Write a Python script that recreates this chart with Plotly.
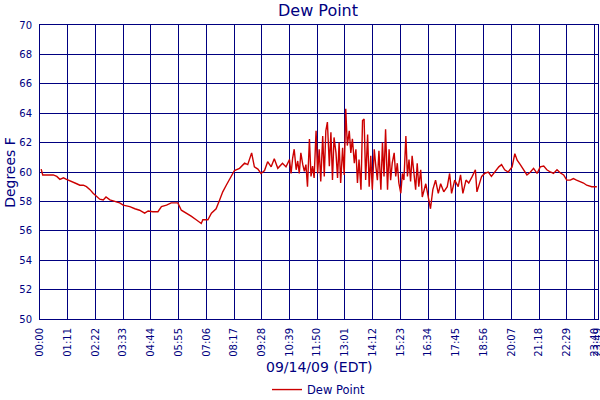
import plotly.graph_objects as go

# minutes after midnight, 09/14/09 (EDT)
minutes = [
    3, 7, 34, 43, 51, 60, 68, 77, 85, 94, 102, 111, 119, 128, 136, 145, 153, 162,
    169, 179, 192, 204, 213, 221, 230, 243, 255, 268, 277, 289, 302, 311, 324, 336,
    353, 362, 375, 387, 400, 413, 417, 430, 439, 451, 460, 468,
    477, 490, 498, 511, 524, 532, 542, 549, 558, 566, 575, 583, 592, 600, 609, 621,
    630,
    639, 643, 647, 651, 656, 660, 664, 668, 673, 677, 681, 685, 690, 694, 698, 702,
    707, 711, 715, 719, 724, 728, 732, 736, 741, 745, 749, 753, 758, 762, 766, 770,
    775, 779, 783, 787, 792, 796, 800, 805, 809,
    813, 817, 822, 826, 830, 834, 839, 843, 847, 851, 856, 860, 864, 868, 873, 877,
    881, 885, 890, 894, 898, 902, 907, 911, 915, 919, 924, 928, 932, 937, 941, 945,
    949, 953, 958, 962, 966, 970, 975, 979,
    988, 994, 1000, 1006, 1013, 1020, 1026, 1034,
    1043, 1049, 1054, 1062, 1071, 1077, 1083, 1091, 1098, 1107, 1115, 1119, 1126,
    1131, 1139, 1148, 1156, 1165, 1175, 1182, 1190, 1199, 1209, 1216, 1222, 1230,
    1239, 1247, 1256, 1264, 1273, 1281, 1290, 1298, 1307, 1315, 1324, 1332, 1341,
    1349, 1358, 1366, 1374, 1383, 1392, 1400, 1413, 1426,
]
dew_point = [
    60.2, 59.8, 59.8, 59.7, 59.5, 59.6, 59.5, 59.4, 59.35, 59.2, 59.1, 59.1, 59.0,
    58.8, 58.55, 58.3, 58.15, 58.1, 58.3, 58.1, 58.0, 57.9, 57.75, 57.7, 57.65, 57.5,
    57.4, 57.2, 57.35, 57.3, 57.3, 57.65, 57.75, 57.9, 57.9, 57.4, 57.2, 57.0, 56.75,
    56.5, 56.75, 56.75, 57.2, 57.5, 58.1, 58.65,
    59.1, 59.7, 60.1, 60.25, 60.6, 60.5, 61.3, 60.35, 60.2, 59.9, 60.1, 60.7, 60.35,
    60.9, 60.25, 60.6, 60.35,
    60.85, 59.9, 60.95, 61.55, 60.15, 60.75, 59.9, 61.3, 60.5, 60.05, 60.5, 59.0,
    62.25, 59.7, 60.4, 59.6, 62.8, 59.9, 61.55, 59.35, 62.45, 59.7, 62.8, 63.4, 60.4,
    62.7, 59.45, 62.35, 61.3, 59.6, 62.0, 59.25, 61.65, 59.8, 64.3, 61.8, 62.8, 61.3,
    62.25, 60.6, 61.55,
    59.25, 60.85, 58.8, 63.5, 63.6, 59.45, 62.55, 59.0, 61.1, 58.8, 61.55, 60.4, 59.45,
    61.45, 58.8, 62.0, 59.7, 62.9, 58.8, 61.55, 59.45, 60.6, 61.3, 59.7, 60.6, 59.25,
    58.55, 59.9, 59.45, 62.45, 59.7, 60.85, 59.35, 61.1, 59.9, 58.8, 60.6, 59.0,
    60.15, 58.3,
    59.2, 58.3, 57.5, 58.8, 59.45, 58.55, 59.2, 58.65,
    59.0, 59.9, 58.55, 59.45, 59.0, 59.8, 58.55, 59.45, 59.25, 59.7, 60.15,
    58.65, 59.25, 59.7, 59.9, 60.0, 59.7, 60.0, 60.35, 60.5, 60.15, 60.0, 60.35,
    61.25, 60.8, 60.5, 60.15, 59.8, 60.0, 60.25, 59.9, 60.35, 60.4, 60.15, 60.0, 59.9,
    60.15, 59.95, 59.8, 59.45, 59.45, 59.55, 59.45, 59.35, 59.25, 59.1, 59.0, 59.0,
]

tick_minutes = [i * 71 for i in range(21)] + [1429]
tick_labels = ["00:00", "01:11", "02:22", "03:33", "04:44", "05:55", "07:06",
               "08:17", "09:28", "10:39", "11:50", "13:01", "14:12", "15:23",
               "16:34", "17:45", "18:56", "20:07", "21:18", "22:29", "23:40", "23:49"]

navy = "#000080"
fnt = "DejaVu Sans"

fig = go.Figure()
fig.add_trace(go.Scatter(x=minutes, y=dew_point, mode="lines", name="Dew Point",
                         line=dict(color="#CC0000", width=1.4)))

fig.update_layout(
    width=600, height=400,
    margin=dict(l=40, r=2, t=25, b=81, autoexpand=False),
    paper_bgcolor="white", plot_bgcolor="white",
    font=dict(family=fnt, color=navy, size=10),
    showlegend=True,
    legend=dict(orientation="h", x=0.5, xanchor="center", y=-0.24, yanchor="middle",
                font=dict(size=11.5, color=navy)),
    title=dict(text="Dew Point", x=0.53, xanchor="center", y=0.975, yanchor="middle",
               font=dict(size=16, color=navy)),
)
fig.update_xaxes(range=[0, 1429], tickvals=tick_minutes, ticktext=tick_labels,
                 tickangle=-90, showgrid=True, gridcolor=navy, gridwidth=1,
                 showline=True, mirror=True, linecolor=navy, linewidth=1,
                 zeroline=False, ticks="", ticklabelstandoff=4, automargin=False,
                 ticklabeloverflow="allow",
                 tickfont=dict(size=10, color=navy))
fig.update_yaxes(range=[50, 70], dtick=2, showgrid=True, gridcolor=navy, gridwidth=1,
                 showline=True, mirror=True, linecolor=navy, linewidth=1,
                 zeroline=False, ticks="", ticklabelstandoff=5, automargin=False,
                 tickfont=dict(size=10, color=navy))

fig.add_annotation(text="09/14/09 (EDT)", xref="paper", yref="paper", x=0.5, y=-0.163,
                   showarrow=False, font=dict(size=14, color=navy), yanchor="middle")
fig.add_annotation(text="Degrees F", xref="paper", yref="paper", x=-0.054, y=0.5,
                   textangle=-90, showarrow=False, font=dict(size=14, color=navy),
                   xanchor="center", yanchor="middle")

# the page has a default 8px body margin; drop it so the chart sits at 0,0
fig.write_html("out.html", config={"displayModeBar": False},
               post_script="document.body.style.margin='0';")
